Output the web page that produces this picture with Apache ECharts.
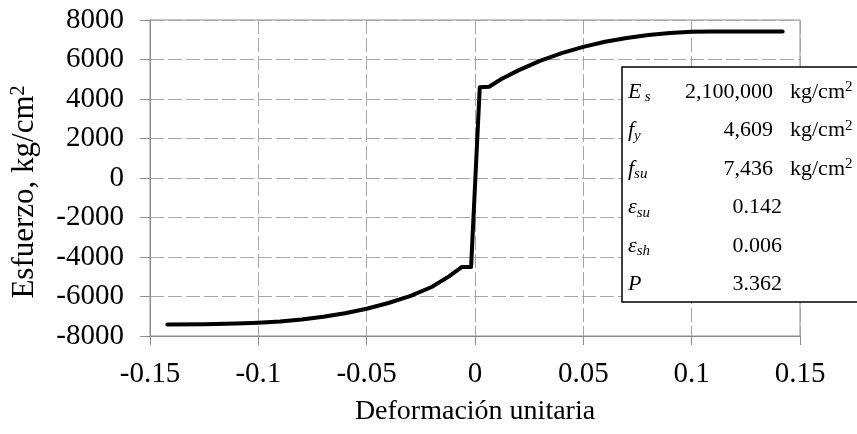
<!DOCTYPE html>
<html><head><meta charset="utf-8">
<script src="https://cdn.jsdelivr.net/npm/echarts@6/dist/echarts.min.js"></script>
<style>html,body{margin:0;padding:0;background:#fff}#c{width:857px;height:434px}</style>
</head><body><div id="c"></div>
<script>
// Curve (strain, stress kg/cm²)
const strain = [-0.142,-0.125,-0.110,-0.100,-0.090,-0.080,-0.070,-0.060,-0.050,-0.040,-0.030,-0.020,-0.012,-0.006,-0.0018,
                0.0022,0.0065,0.012,0.020,0.030,0.040,0.050,0.060,0.070,0.080,0.090,0.100,0.110,0.142];
const stress = [-7420,-7410,-7370,-7330,-7270,-7170,-7030,-6850,-6620,-6330,-5980,-5520,-4980,-4500,-4500,
                4600,4620,5000,5450,5930,6320,6640,6900,7090,7240,7340,7400,7420,7420];
// Table of parameters
const tableSymbols = ['{i|E} {s|s}','{i|f}{s|y}','{i|f}{s|su}','{i|ε}{s|su}','{i|ε}{s|sh}','{i|P}'];
const tableValues  = ['2,100,000','4,609','7,436','0.142','0.006','3.362'];
const tableUnits   = ['kg/cm{p|2}','kg/cm{p|2}','kg/cm{p|2}','','',''];

const FONT = 'Liberation Serif';
const chart = echarts.init(document.getElementById('c'));
const graphics = [{
  type:'rect', z:100, shape:{x:622,y:67,width:260,height:235},
  style:{fill:'#fff',stroke:'#000',lineWidth:1.5}
}];
tableSymbols.forEach((s,i)=>{
  const y = 92 + 38.5*i;
  graphics.push({type:'text', z:101, x:628, y:y, style:{
    text:s, verticalAlign:'middle', align:'left',
    rich:{ i:{fontFamily:FONT,fontStyle:'italic',fontSize:22,lineHeight:26,fill:'#000'},
           s:{fontFamily:FONT,fontStyle:'italic',fontSize:15,lineHeight:15,verticalAlign:'bottom',fill:'#000'} }
  }});
  const hasUnit = tableUnits[i] !== '';
  graphics.push({type:'text', z:101, x: hasUnit ? 773 : 782, y:y, style:{
    text:tableValues[i], align:'right', verticalAlign:'middle', fontFamily:FONT, fontSize:22, fill:'#000'}});
  if (hasUnit) graphics.push({type:'text', z:101, x:790, y:y, style:{
    text:tableUnits[i], align:'left', verticalAlign:'middle',
    rich:{ p:{fontFamily:FONT,fontSize:15,lineHeight:15,verticalAlign:'top',fill:'#000'} },
    fontFamily:FONT, fontSize:22, lineHeight:24, fill:'#000'}});
});

chart.setOption({
  animation:false,
  backgroundColor:'#fff',
  grid:{left:150,right:57,top:20,bottom:98,show:true,borderColor:'#8c8c8c',borderWidth:1},
  xAxis:{type:'value',min:-0.15,max:0.15,interval:0.05,
    name:'Deformación unitaria',nameLocation:'middle',nameGap:62,
    nameTextStyle:{fontFamily:FONT,fontSize:28,color:'#000'},
    axisLine:{show:true,onZero:false,lineStyle:{color:'#8c8c8c',width:1}},
    axisTick:{show:true,length:9,lineStyle:{color:'#8c8c8c'}},
    axisLabel:{fontFamily:FONT,fontSize:29,color:'#000',margin:24,
      formatter:v=>String(+(+v).toFixed(2))},
    splitLine:{show:true,lineStyle:{color:'#a6a6a6',type:[14,4],width:1}}},
  yAxis:{type:'value',min:-8000,max:8000,interval:2000,
    name:'Esfuerzo, kg/cm{p|2}',nameLocation:'middle',nameGap:110,
    nameTextStyle:{fontFamily:FONT,fontSize:31,color:'#000',padding:[0,28,0,0],
      rich:{p:{fontFamily:FONT,fontSize:20,lineHeight:20,verticalAlign:'top',color:'#000'}}},
    axisLine:{show:true,onZero:false,lineStyle:{color:'#8c8c8c',width:1}},
    axisTick:{show:true,length:10,lineStyle:{color:'#8c8c8c'}},
    axisLabel:{fontFamily:FONT,fontSize:29,color:'#000',margin:26,formatter:v=>String(v)},
    splitLine:{show:true,lineStyle:{color:'#a6a6a6',type:[14,4],width:1}}},
  series:[{type:'line',data:strain.map((e,i)=>[e,stress[i]]),showSymbol:false,
    lineStyle:{color:'#000',width:4,cap:'round',join:'round'},z:5}],
  graphic:graphics
});
</script></body></html>
